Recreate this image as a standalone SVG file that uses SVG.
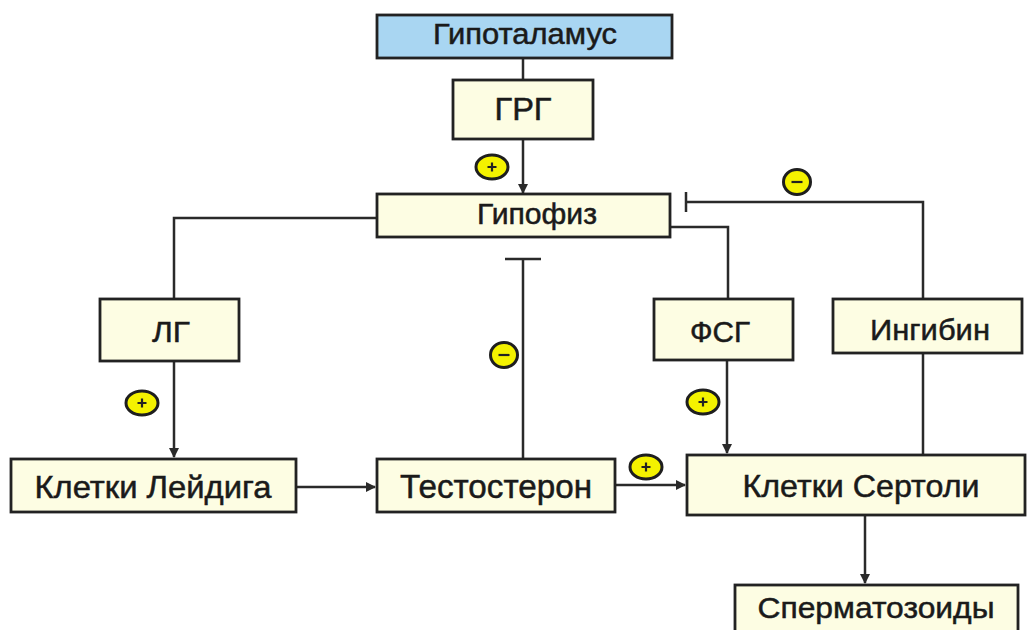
<svg xmlns="http://www.w3.org/2000/svg" width="1027" height="630" viewBox="0 0 1027 630">
  <style>
    .box { fill: #fdfde3; stroke: #222; stroke-width: 2.8; }
    .top { fill: #a9d6f2; stroke: #222; stroke-width: 2.8; }
    .lbl { font-family: "Liberation Sans", Arial, sans-serif; fill: #1a1a1a; stroke: #1a1a1a; stroke-width: 0.5; text-anchor: middle; }
    .wire { fill: none; stroke: #2a2a2a; stroke-width: 2.5; }
    .badge { fill: #f4f200; stroke: #1e1e1e; stroke-width: 3; }
    .sign { stroke: #222; stroke-width: 2.2; fill: none; }
  </style>
  <defs>
    <marker id="arrow" viewBox="0 0 10 10" refX="9" refY="5" markerWidth="4" markerHeight="4" orient="auto" markerUnits="strokeWidth">
      <path d="M0,0 L10,5 L0,10 z" fill="#2a2a2a"/>
    </marker>
    <g id="plus">
      <ellipse class="badge" cx="0" cy="0" rx="16" ry="12"/>
      <path class="sign" d="M-4.5,0 H4.5 M0,-4.5 V4.5"/>
    </g>
    <g id="minus">
      <ellipse class="badge" cx="0" cy="0" rx="13.5" ry="12.5"/>
      <path class="sign" d="M-5.5,0 H5.5" stroke-width="2.8"/>
    </g>
  </defs>

  <rect width="1027" height="630" fill="#ffffff"/>

  <!-- connectors -->
  <g id="connectors">
    <!-- Hypothalamus to GnRH -->
    <path class="wire" d="M523,58 V80"/>
    <!-- GnRH to pituitary -->
    <path class="wire" d="M523,139 V193" marker-end="url(#arrow)"/>
    <!-- pituitary to LH -->
    <path class="wire" d="M377,218 H174 V299"/>
    <!-- LH to Leydig cells -->
    <path class="wire" d="M174,361 V457" marker-end="url(#arrow)" stroke-width="2"/>
    <!-- Leydig cells to testosterone -->
    <path class="wire" d="M296,487 H375" marker-end="url(#arrow)" stroke-width="2"/>
    <!-- testosterone inhibits pituitary -->
    <path class="wire" d="M523,459 V259 M505,259 H541" stroke-width="3"/>
    <!-- testosterone to Sertoli cells -->
    <path class="wire" d="M615,485 H685" marker-end="url(#arrow)" stroke-width="2"/>
    <!-- pituitary to FSH -->
    <path class="wire" d="M670,227 H728 V299"/>
    <!-- FSH to Sertoli cells -->
    <path class="wire" d="M727,360 V453" marker-end="url(#arrow)" stroke-width="2"/>
    <!-- inhibin inhibits pituitary -->
    <path class="wire" d="M923,455 V353 M923,299 V202 H686 M686,192 V212"/>
    <!-- Sertoli cells to spermatozoa -->
    <path class="wire" d="M865,515 V583" marker-end="url(#arrow)" stroke-width="2"/>
  </g>

  <!-- effect markers -->
  <g id="signs">
    <use href="#plus" x="492" y="167"/>
    <use href="#minus" x="797" y="182"/>
    <use href="#plus" x="142" y="403"/>
    <use href="#minus" x="504" y="355"/>
    <use href="#plus" x="703" y="402"/>
    <use href="#plus" x="646" y="467"/>
  </g>

  <g id="hypothalamus">
    <rect class="top" x="377" y="15" width="295" height="43"/>
    <text class="lbl" x="525" y="44" font-size="29" textLength="184" lengthAdjust="spacingAndGlyphs">Гипоталамус</text>
  </g>
  <g id="grg">
    <rect class="box" x="453" y="80" width="140" height="59"/>
    <text class="lbl" x="523" y="120" font-size="31" textLength="57" lengthAdjust="spacingAndGlyphs">ГРГ</text>
  </g>
  <g id="pituitary">
    <rect class="box" x="377" y="194" width="293" height="43"/>
    <text class="lbl" x="537" y="224" font-size="29" textLength="120" lengthAdjust="spacingAndGlyphs">Гипофиз</text>
  </g>
  <g id="lh">
    <rect class="box" x="100" y="299" width="139" height="62"/>
    <text class="lbl" x="171" y="342" font-size="30" textLength="38" lengthAdjust="spacingAndGlyphs">ЛГ</text>
  </g>
  <g id="fsh">
    <rect class="box" x="654" y="299" width="139" height="61"/>
    <text class="lbl" x="720" y="342" font-size="29" textLength="60" lengthAdjust="spacingAndGlyphs">ФСГ</text>
  </g>
  <g id="inhibin">
    <rect class="box" x="833" y="299" width="189" height="54"/>
    <text class="lbl" x="930" y="340" font-size="30" textLength="120" lengthAdjust="spacingAndGlyphs">Ингибин</text>
  </g>
  <g id="leydig">
    <rect class="box" x="11" y="459" width="285" height="53"/>
    <text class="lbl" x="153" y="498" font-size="32" textLength="237" lengthAdjust="spacingAndGlyphs">Клетки Лейдига</text>
  </g>
  <g id="testosterone">
    <rect class="box" x="377" y="459" width="238" height="53"/>
    <text class="lbl" x="496" y="498" font-size="33" textLength="192" lengthAdjust="spacingAndGlyphs">Тестостерон</text>
  </g>
  <g id="sertoli">
    <rect class="box" x="687" y="455" width="338" height="60"/>
    <text class="lbl" x="861" y="497" font-size="32" textLength="237" lengthAdjust="spacingAndGlyphs">Клетки Сертоли</text>
  </g>
  <g id="spermatozoa">
    <rect class="box" x="735" y="585" width="283" height="50"/>
    <text class="lbl" x="876" y="618" font-size="30" textLength="237" lengthAdjust="spacingAndGlyphs">Сперматозоиды</text>
  </g>
</svg>
